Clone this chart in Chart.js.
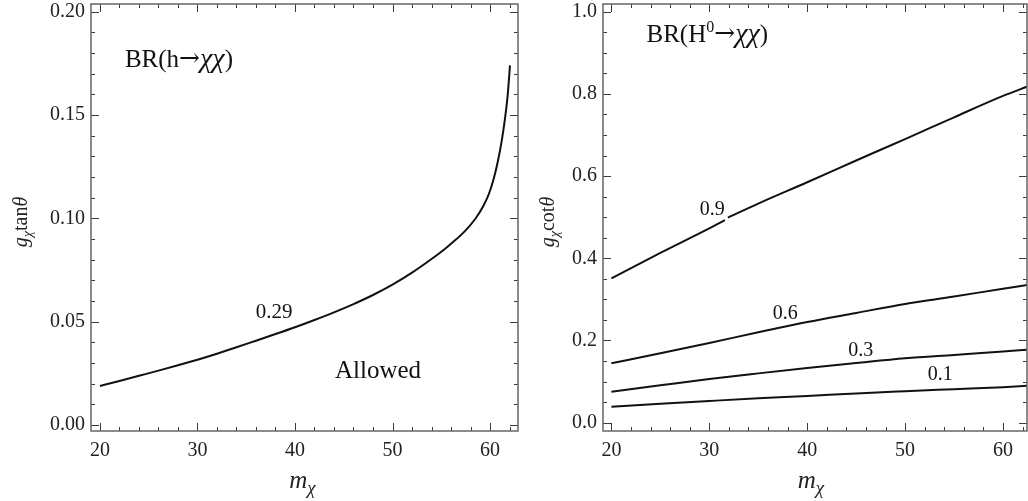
<!DOCTYPE html>
<html>
<head>
<meta charset="utf-8">
<script src="https://cdn.jsdelivr.net/npm/chart.js@4.4.1/dist/chart.umd.min.js"></script>
<style>
  html, body { margin: 0; padding: 0; background: #fff; }
  #wrap { position: relative; width: 1028px; height: 501px; }
  #left { position: absolute; left: 0; top: 0; }
  #right { position: absolute; left: 520px; top: 0; }
</style>
</head>
<body>
<div id="wrap">
  <canvas id="left" width="520" height="501"></canvas>
  <canvas id="right" width="508" height="501"></canvas>
</div>
<script>
// left panel: BR(h -> chi chi) = 0.29 contour
const mLeft = [20, 22, 24, 26, 28, 30, 32, 34, 36, 38, 40, 42, 44, 46, 48, 50, 52, 54, 55.4, 56.5, 57.5, 58.5, 59.3, 59.9, 60.4, 60.8, 61.2, 61.5, 61.8, 62.05];
const gTan = [0.0189, 0.0213, 0.0238, 0.0263, 0.0289, 0.0316, 0.0345, 0.0376, 0.0408, 0.0440, 0.0473, 0.0508, 0.0545, 0.0585, 0.0629, 0.0679, 0.0737, 0.0803, 0.0853, 0.0897, 0.0942, 0.0998, 0.1058, 0.1120, 0.1195, 0.1275, 0.1375, 0.1470, 0.1590, 0.1740];

// right panel: BR(H0 -> chi chi) contours
const m09 = [20, 25, 30, 31.6, 31.75, 31.9, 35, 40, 45, 50, 55, 60, 62.5];
const g09 = [0.351, 0.413, 0.473, 0.493, null, 0.499, 0.533, 0.585, 0.638, 0.690, 0.743, 0.795, 0.818];
const mRight = [20, 25, 30, 35, 40, 45, 50, 55, 60, 62.5];
const g06 = [0.1445, 0.169, 0.194, 0.220, 0.245, 0.267, 0.289, 0.307, 0.326, 0.335];
const g03 = [0.0755, 0.091, 0.1065, 0.120, 0.1328, 0.145, 0.1566, 0.165, 0.1734, 0.1777];
const g01 = [0.039, 0.046, 0.0528, 0.0593, 0.065, 0.0712, 0.0765, 0.0815, 0.0865, 0.090];

// ticks
const xTicks = [20, 30, 40, 50, 60];
const xMinor = [22, 24, 26, 28, 32, 34, 36, 38, 42, 44, 46, 48, 52, 54, 56, 58, 62];
const yTicksLeft = [0, 0.05, 0.10, 0.15, 0.20];
const yMinorLeft = [0.01, 0.02, 0.03, 0.04, 0.06, 0.07, 0.08, 0.09, 0.11, 0.12, 0.13, 0.14, 0.16, 0.17, 0.18, 0.19];
const yTicksRight = [0, 0.2, 0.4, 0.6, 0.8, 1.0];
const yMinorRight = [0.05, 0.1, 0.15, 0.25, 0.3, 0.35, 0.45, 0.5, 0.55, 0.65, 0.7, 0.75, 0.85, 0.9, 0.95];

const SERIF = '"Liberation Serif", "DejaVu Serif", serif';
Chart.defaults.font.family = SERIF;
Chart.defaults.color = '#222';

const toXY = (xs, ys) => xs.map((x, i) => ({ x: x, y: ys[i] }));

// runs: [text, style, size, dy, family]
function runFont(r) {
  return (r[1] || 'normal') + ' ' + r[2] + 'px ' + (r[4] || SERIF);
}
function drawRuns(ctx, runs, x, y, align) {
  let w = 0;
  runs.forEach(r => { ctx.font = runFont(r); w += ctx.measureText(r[0]).width; });
  let cx = align === 'center' ? x - w / 2 : x;
  runs.forEach(r => {
    ctx.font = runFont(r);
    ctx.fillText(r[0], cx, y + (r[3] || 0));
    cx += ctx.measureText(r[0]).width;
  });
}

const framePlugin = {
  id: 'frame',
  afterDatasetsDraw(chart, args, opts) {
    const { ctx, chartArea: a, scales } = chart;
    const sx = scales.x, sy = scales.y;
    ctx.save();
    // inward ticks on all four sides
    ctx.strokeStyle = '#3a3a3a';
    ctx.lineWidth = 1;
    ctx.beginPath();
    const xt = (v, len) => {
      const p = Math.round(sx.getPixelForValue(v)) + 0.5;
      ctx.moveTo(p, a.bottom); ctx.lineTo(p, a.bottom - len);
      ctx.moveTo(p, a.top); ctx.lineTo(p, a.top + len);
    };
    const yt = (v, len) => {
      const p = Math.round(sy.getPixelForValue(v)) + 0.5;
      ctx.moveTo(a.left, p); ctx.lineTo(a.left + len, p);
      ctx.moveTo(a.right, p); ctx.lineTo(a.right - len, p);
    };
    xTicks.forEach(v => xt(v, 8));
    xMinor.forEach(v => xt(v, 4));
    opts.yTicks.forEach(v => yt(v, 8));
    opts.yMinor.forEach(v => yt(v, 4));
    ctx.stroke();
    // frame
    ctx.strokeStyle = '#666';
    ctx.lineWidth = 1.5;
    ctx.strokeRect(a.left, a.top, a.right - a.left, a.bottom - a.top);

    // annotations
    ctx.fillStyle = '#111';
    ctx.textBaseline = 'alphabetic';
    opts.notes.forEach(n => {
      drawRuns(ctx, n.runs, sx.getPixelForValue(n.x), sy.getPixelForValue(n.y), n.align);
    });

    // axis titles
    ctx.fillStyle = '#222';
    drawRuns(ctx, [['m', 'italic', 25], ['\u03c7', 'italic', 19, 6]],
      (a.left + a.right) / 2 + opts.xTitleShift, 488, 'center');
    ctx.translate(opts.yTitleX, 222);
    ctx.rotate(-Math.PI / 2);
    drawRuns(ctx, opts.yTitle, 0, 0, 'center');
    ctx.restore();
  }
};

function makeChart(id, cfg) {
  const lineStyle = {
    borderColor: '#111',
    borderWidth: 2,
    pointRadius: 0,
    fill: false,
    spanGaps: false,
    cubicInterpolationMode: 'monotone'
  };
  return new Chart(document.getElementById(id), {
    type: 'line',
    data: { datasets: cfg.datasets.map(d => Object.assign({}, lineStyle, d)) },
    options: {
      responsive: false,
      animation: false,
      layout: { padding: cfg.padding },
      plugins: {
        legend: { display: false },
        tooltip: { enabled: false },
        frame: cfg.frame
      },
      scales: {
        x: {
          type: 'linear',
          min: cfg.xMin,
          max: cfg.xMax,
          grid: { display: false, drawTicks: false },
          border: { display: false },
          afterBuildTicks: s => { s.ticks = xTicks.map(v => ({ value: v })); },
          afterFit: s => { s.height = 70; s.paddingLeft = 0; s.paddingRight = 0; },
          ticks: { font: { size: 20 }, color: '#222', padding: 8, maxRotation: 0, callback: v => String(v) }
        },
        y: {
          type: 'linear',
          min: cfg.yMin,
          max: cfg.yMax,
          grid: { display: false, drawTicks: false },
          border: { display: false },
          afterBuildTicks: s => { s.ticks = cfg.yTicks.map(v => ({ value: v })); },
          afterFit: s => { s.width = cfg.yWidth; s.paddingTop = 0; s.paddingBottom = 0; },
          ticks: { font: { size: 20 }, color: '#222', padding: 6, callback: v => v.toFixed(cfg.yDigits) }
        }
      }
    },
    plugins: [framePlugin]
  });
}

const ARROW = '"DejaVu Serif", serif';

makeChart('left', {
  datasets: [{ data: toXY(mLeft, gTan) }],
  xMin: 19.08, xMax: 62.87,
  yMin: -0.0029, yMax: 0.2037,
  yTicks: yTicksLeft, yDigits: 2,
  yWidth: 91,
  padding: { left: 0, right: 2, top: 4, bottom: 0 },
  frame: {
    yTicks: yTicksLeft, yMinor: yMinorLeft,
    xTitleShift: -2,
    yTitleX: 27,
    yTitle: [['g', 'italic', 20], ['\u03c7', 'italic', 14, 5], ['tan', 'normal', 20], ['\u03b8', 'italic', 20]],
    notes: [
      { x: 22.56, y: 0.1732, align: 'left', runs: [['BR(h', 'normal', 25], ['\u2192', 'normal', 25, -1, ARROW], ['\u03c7\u03c7', 'italic', 28], [')', 'normal', 25]] },
      { x: 37.87, y: 0.0516, align: 'center', runs: [['0.29', 'normal', 21]] },
      { x: 44.1, y: 0.0229, align: 'left', runs: [['Allowed', 'normal', 25]] }
    ]
  }
});

makeChart('right', {
  datasets: [
    { data: toXY(m09, g09) },
    { data: toXY(mRight, g06) },
    { data: toXY(mRight, g03) },
    { data: toXY(mRight, g01) }
  ],
  xMin: 19.14, xMax: 62.45,
  yMin: -0.0202, yMax: 1.0187,
  yTicks: yTicksRight, yDigits: 1,
  yWidth: 83,
  padding: { left: 0, right: 1, top: 4, bottom: 0 },
  frame: {
    yTicks: yTicksRight, yMinor: yMinorRight,
    xTitleShift: -4,
    yTitleX: 34,
    yTitle: [['g', 'italic', 20], ['\u03c7', 'italic', 14, 5], ['cot', 'normal', 20], ['\u03b8', 'italic', 20]],
    notes: [
      { x: 23.58, y: 0.927, align: 'left', runs: [['BR(H', 'normal', 25], ['0', 'normal', 16, -10], ['\u2192', 'normal', 25, -1, ARROW], ['\u03c7\u03c7', 'italic', 28], [')', 'normal', 25]] },
      { x: 30.3, y: 0.505, align: 'center', runs: [['0.9', 'normal', 20]] },
      { x: 37.75, y: 0.2516, align: 'center', runs: [['0.6', 'normal', 20]] },
      { x: 45.47, y: 0.1623, align: 'center', runs: [['0.3', 'normal', 20]] },
      { x: 53.6, y: 0.1039, align: 'center', runs: [['0.1', 'normal', 20]] }
    ]
  }
});
</script>
</body>
</html>
